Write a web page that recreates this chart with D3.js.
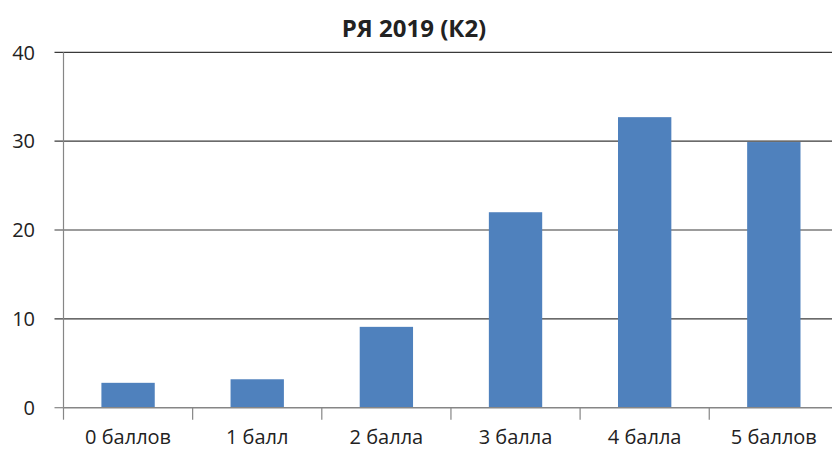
<!DOCTYPE html>
<html lang="ru">
<head>
    <meta charset="UTF-8">
    <title>РЯ 2019 (К2)</title>
    <script src="https://d3js.org/d3.v7.min.js"></script>
    <style>
        body { margin: 0; background: #fff; }
        svg text { font-family: "Open Sans", "Noto Sans", sans-serif; fill: #222; }
    </style>
</head>
<body>
    <svg id="chart" width="832" height="450"></svg>
    <script>
        // Data
        const categories = ["0 баллов", "1 балл", "2 балла", "3 балла", "4 балла", "5 баллов"];
        const values = [2.8, 3.2, 9.1, 22.0, 32.7, 29.9];
        const yTicks = [0, 10, 20, 30, 40];
        const title = "РЯ 2019 (К2)";

        // Plot area edges
        const plot = { left: 63.5, right: 838.4, top: 52.3, bottom: 407.7 };

        const svg = d3.select("#chart");

        const x = d3.scaleBand()
            .domain(categories)
            .range([plot.left, plot.right]);

        const y = d3.scaleLinear()
            .domain([0, 40])
            .range([plot.bottom, plot.top]);

        // gridlines
        svg.append("g")
            .selectAll("line")
            .data(yTicks.filter(d => d > 0))
            .enter()
            .append("line")
            .attr("x1", plot.left - 9)
            .attr("x2", 832)
            .attr("y1", d => y(d))
            .attr("y2", d => y(d))
            .attr("stroke", "#3a3a3a")
            .attr("stroke-width", 1.2);

        // bars (about 41% of each band)
        const barW = x.bandwidth() * 0.413;
        svg.append("g")
            .selectAll("rect")
            .data(values)
            .enter()
            .append("rect")
            .attr("x", (d, i) => x(categories[i]) + (x.bandwidth() - barW) / 2)
            .attr("y", d => y(d))
            .attr("width", barW)
            .attr("height", d => plot.bottom - y(d))
            .attr("fill", "#4f81bd");

        // y axis line + tick at 0
        svg.append("line")
            .attr("x1", plot.left).attr("x2", plot.left)
            .attr("y1", plot.top).attr("y2", plot.bottom)
            .attr("stroke", "#868686")
            .attr("stroke-width", 1.2);

        svg.append("line")
            .attr("x1", plot.left - 9).attr("x2", plot.left)
            .attr("y1", plot.bottom).attr("y2", plot.bottom)
            .attr("stroke", "#868686")
            .attr("stroke-width", 1.2);

        // y labels
        svg.append("g")
            .selectAll("text")
            .data(yTicks)
            .enter()
            .append("text")
            .attr("x", 35)
            .attr("y", d => y(d))
            .attr("dy", "0.36em")
            .attr("text-anchor", "end")
            .attr("font-size", "20px")
            .text(d => d);

        // x axis line
        svg.append("line")
            .attr("x1", plot.left).attr("x2", 832)
            .attr("y1", plot.bottom).attr("y2", plot.bottom)
            .attr("stroke", "#868686")
            .attr("stroke-width", 1.5);

        // x category ticks at band edges
        svg.append("g")
            .selectAll("line")
            .data(categories)
            .enter()
            .append("line")
            .attr("x1", d => x(d))
            .attr("x2", d => x(d))
            .attr("y1", plot.bottom)
            .attr("y2", plot.bottom + 12)
            .attr("stroke", "#868686")
            .attr("stroke-width", 1.2);

        // x labels
        svg.append("g")
            .selectAll("text")
            .data(categories)
            .enter()
            .append("text")
            .attr("x", d => x(d) + x.bandwidth() / 2)
            .attr("y", 444)
            .attr("text-anchor", "middle")
            .attr("font-size", "20px")
            .text(d => d);

        // title
        svg.append("text")
            .attr("x", 414)
            .attr("y", 37)
            .attr("text-anchor", "middle")
            .attr("font-size", "24px")
            .attr("font-weight", "bold")
            .text(title);
    </script>
</body>
</html>
